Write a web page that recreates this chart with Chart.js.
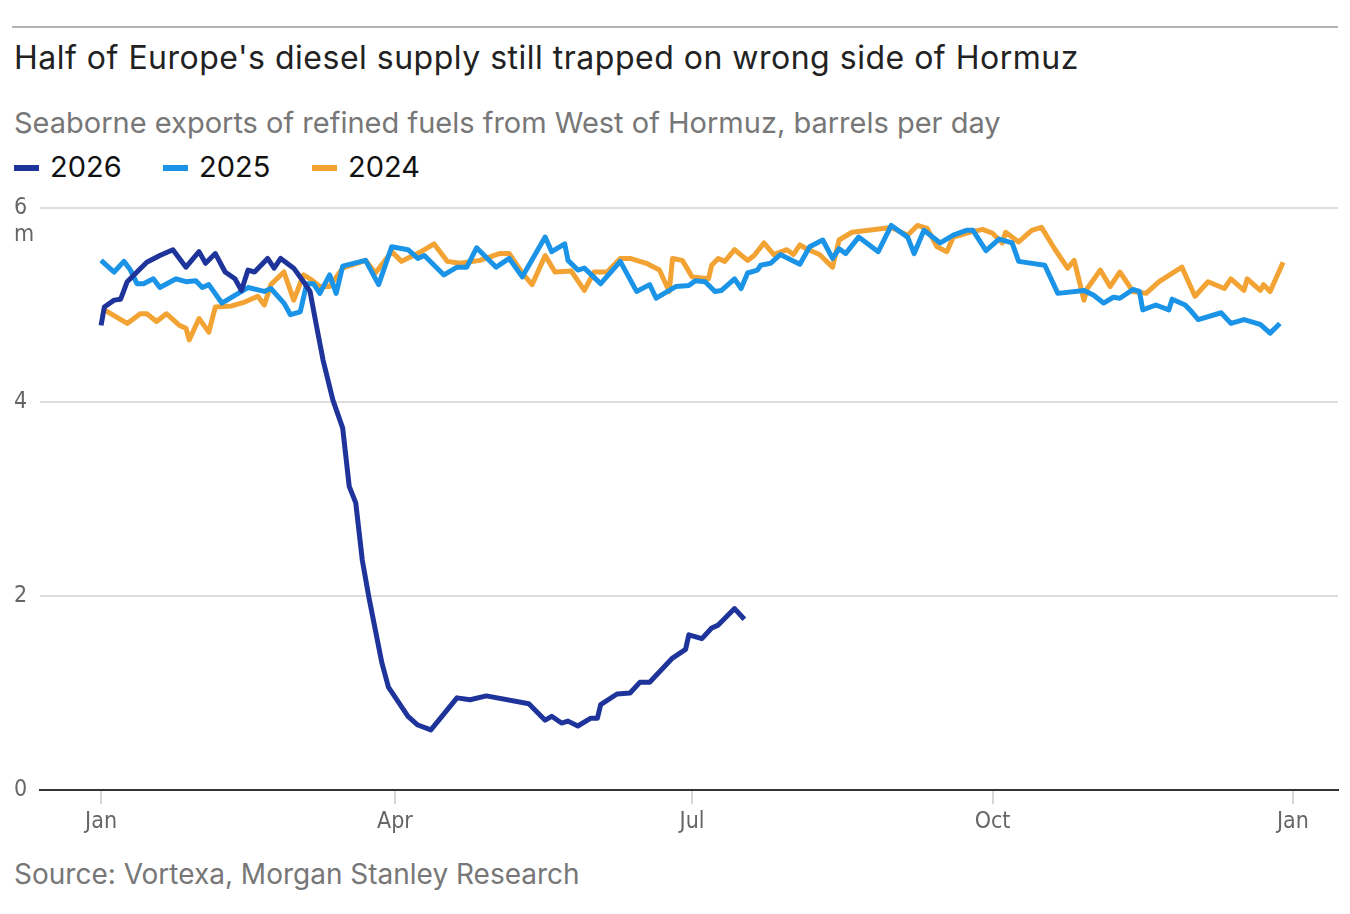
<!DOCTYPE html>
<html>
<head>
<meta charset="utf-8">
<script src="https://cdn.jsdelivr.net/npm/chart.js@4.4.1/dist/chart.umd.min.js"></script>
<style>
    html, body {
        margin: 0;
        padding: 0;
        background: #ffffff;
    }
    body {
        width: 1350px;
        height: 914px;
        position: relative;
        overflow: hidden;
        font-family: 'Inter', 'Roboto', sans-serif;
    }
    .rule {
        position: absolute;
        left: 12px;
        top: 26px;
        width: 1326px;
        height: 2px;
        background: #b4b4b4;
    }
    .txt {
        position: absolute;
        left: 14px;
        white-space: nowrap;
    }
    #title {
        top: 37px;
        font-size: 32px;
        line-height: 42px;
        letter-spacing: 0.5px;
        color: #222222;
    }
    #subtitle {
        top: 104px;
        font-size: 29px;
        line-height: 38px;
        color: #777777;
    }
    #legend {
        top: 149px;
        font-size: 29px;
        line-height: 36px;
        color: #111111;
        display: flex;
        align-items: center;
    }
    .item {
        display: flex;
        align-items: center;
        width: 149px;
    }
    .swatch {
        width: 25px;
        height: 6px;
        margin-right: 11px;
        margin-top: 2px;
    }
    #source {
        top: 857px;
        font-size: 28px;
        line-height: 34px;
        color: #777777;
    }
    #chart {
        position: absolute;
        left: 0;
        top: 190px;
    }
</style>
</head>
<body>
<div class="rule"></div>
<div class="txt" id="title">Half of Europe's diesel supply still trapped on wrong side of Hormuz</div>
<div class="txt" id="subtitle">Seaborne exports of refined fuels from West of Hormuz, barrels per day</div>
<div class="txt" id="legend"></div>
<div class="txt" id="source">Source: Vortexa, Morgan Stanley Research</div>
<canvas id="chart" width="1350" height="655"></canvas>
<script>
// Day of year (0 = 1 Jan) and exports in million barrels per day
const days2026 = [0, 1, 4, 6, 8, 11, 14, 18, 22, 26, 30, 32, 35, 38, 41, 43, 45, 47, 51, 53,
    55, 59, 62, 64, 66, 68, 71, 74, 76, 78, 80, 82, 86, 88, 94, 97, 101, 109, 113, 118,
    131, 136, 138, 141, 143, 146, 150, 152, 153, 158, 162, 165, 168, 175, 179, 180, 184, 187, 189, 194,
    197]
const vals2026 = [4.79, 4.98, 5.05, 5.06, 5.24, 5.34, 5.44, 5.51, 5.57, 5.39, 5.55, 5.43, 5.53, 5.34, 5.27, 5.15, 5.36, 5.34, 5.48, 5.38,
    5.48, 5.38, 5.24, 5.14, 4.78, 4.43, 4.02, 3.73, 3.13, 2.96, 2.37, 1.99, 1.31, 1.06, 0.76, 0.67, 0.62, 0.95, 0.93, 0.97,
    0.89, 0.72, 0.76, 0.69, 0.71, 0.66, 0.74, 0.74, 0.88, 0.99, 1.0, 1.11, 1.11, 1.36, 1.45, 1.6, 1.56, 1.67, 1.7, 1.87,
    1.76]

const days2025 = [0, 4, 7, 9, 11, 13, 16, 18, 23, 26, 29, 31, 33, 37, 42, 45, 50, 52, 56, 58,
    61, 63, 65, 67, 70, 72, 74, 81, 85, 89, 94, 97, 99, 105, 109, 112, 115, 121, 125, 129,
    136, 138, 142, 143, 146, 148, 153, 159, 164, 168, 170, 176, 180, 182, 185, 188, 190, 194, 196, 198,
    201, 202, 205, 208, 214, 217, 221, 224, 226, 228, 232, 238, 242, 247, 249, 252, 257, 261, 265, 267,
    271, 275, 279, 281, 289, 293, 301, 304, 307, 310, 312, 316, 318, 319, 323, 327, 328, 332, 334, 336,
    343, 346, 350, 355, 358, 361]
const vals2025 = [5.46, 5.34, 5.45, 5.36, 5.22, 5.22, 5.27, 5.18, 5.27, 5.24, 5.25, 5.18, 5.21, 5.02, 5.12, 5.18, 5.14, 5.17, 5.02, 4.9,
    4.93, 5.22, 5.22, 5.12, 5.31, 5.12, 5.4, 5.46, 5.21, 5.6, 5.57, 5.48, 5.51, 5.31, 5.39, 5.39, 5.59, 5.39, 5.48, 5.29,
    5.7, 5.55, 5.63, 5.46, 5.36, 5.38, 5.22, 5.45, 5.14, 5.21, 5.07, 5.19, 5.2, 5.25, 5.24, 5.14, 5.15, 5.27, 5.17, 5.33,
    5.36, 5.41, 5.43, 5.52, 5.42, 5.6, 5.67, 5.48, 5.58, 5.53, 5.7, 5.55, 5.82, 5.7, 5.53, 5.77, 5.64, 5.72, 5.77, 5.77,
    5.56, 5.68, 5.64, 5.45, 5.41, 5.12, 5.15, 5.1, 5.02, 5.08, 5.07, 5.16, 5.14, 4.95, 5.0, 4.95, 5.06, 5.0, 4.93, 4.85,
    4.92, 4.81, 4.85, 4.8, 4.71, 4.81]

const days2024 = [1, 8, 12, 14, 17, 20, 24, 26, 27, 30, 33, 35, 40, 44, 48, 50, 52, 56, 59, 62,
    64, 67, 70, 74, 81, 84, 89, 92, 98, 102, 106, 110, 116, 122, 125, 129, 132, 136, 139, 144,
    148, 151, 155, 159, 162, 167, 171, 174, 175, 178, 181, 186, 187, 189, 191, 194, 198, 200, 203, 206,
    210, 212, 214, 216, 220, 224, 226, 230, 235, 242, 247, 250, 253, 256, 259, 261, 266, 270, 273, 276,
    277, 281, 285, 288, 292, 296, 298, 301, 302, 306, 309, 312, 316, 320, 324, 331, 335, 339, 344, 346,
    350, 351, 355, 356, 358, 362]
const vals2024 = [4.95, 4.81, 4.91, 4.91, 4.83, 4.91, 4.79, 4.76, 4.64, 4.86, 4.72, 4.98, 4.99, 5.03, 5.09, 5.0, 5.21, 5.34, 5.05, 5.31,
    5.27, 5.19, 5.19, 5.38, 5.46, 5.33, 5.55, 5.45, 5.55, 5.63, 5.45, 5.43, 5.46, 5.53, 5.53, 5.33, 5.21, 5.51, 5.34, 5.35,
    5.15, 5.34, 5.34, 5.48, 5.48, 5.43, 5.36, 5.14, 5.48, 5.46, 5.29, 5.27, 5.41, 5.48, 5.45, 5.57, 5.46, 5.51, 5.64, 5.52,
    5.57, 5.52, 5.62, 5.58, 5.52, 5.39, 5.67, 5.75, 5.77, 5.8, 5.72, 5.82, 5.79, 5.6, 5.55, 5.7, 5.75, 5.78, 5.74, 5.64,
    5.75, 5.65, 5.77, 5.8, 5.58, 5.38, 5.46, 5.05, 5.17, 5.36, 5.19, 5.34, 5.14, 5.12, 5.24, 5.39, 5.09, 5.24, 5.17, 5.27,
    5.15, 5.27, 5.15, 5.21, 5.14, 5.44]

const seriesNames = ['2026', '2025', '2024']
const seriesColors = ['#1f349b', '#1b94e7', '#f3a333']

const xTickDays = [0, 90, 181, 273, 365]
const xTickLabels = ['Jan', 'Apr', 'Jul', 'Oct', 'Jan']
const yTickValues = [0, 2, 4, 6]

const tickFont = "'Liberation Sans Narrow', 'DejaVu Sans Condensed', 'Roboto', sans-serif"

// Legend in HTML
const legend = document.getElementById('legend')
seriesNames.forEach((name, i) => {
    const item = document.createElement('div')
    item.className = 'item'
    item.innerHTML =
        '<span class="swatch" style="background:' + seriesColors[i] + '"></span>' + name
    legend.appendChild(item)
})

function toPoints(days, vals) {
    return days.map((d, i) => ({ x: d, y: vals[i] }))
}

const allSeries = [
    toPoints(days2026, vals2026),
    toPoints(days2025, vals2025),
    toPoints(days2024, vals2024),
]

// "m" unit under the top y tick
const unitLabelPlugin = {
    id: 'unitLabelPlugin',
    afterDraw(chart) {
        const ctx = chart.ctx
        const yScale = chart.scales.y
        ctx.save()
        ctx.font = '23px ' + tickFont
        ctx.fillStyle = '#666666'
        ctx.textAlign = 'left'
        ctx.textBaseline = 'middle'
        ctx.fillText('m', 14, yScale.getPixelForValue(6) + 27)
        ctx.restore()
    },
}

const ctx = document.getElementById('chart').getContext('2d')

const chart = new Chart(ctx, {
    type: 'line',
    data: {
        datasets: allSeries.map((pts, i) => ({
            label: seriesNames[i],
            data: pts,
            borderColor: seriesColors[i],
            backgroundColor: seriesColors[i],
            borderWidth: 5,
            pointRadius: 0,
            tension: 0,
            borderJoinStyle: 'round',
            fill: false,
        })),
    },
    options: {
        responsive: false,
        animation: false,
        devicePixelRatio: 1,
        layout: {
            padding: { top: 18, left: 14, right: 12, bottom: 0 },
        },
        plugins: {
            legend: { display: false },
            tooltip: { enabled: false },
            title: { display: false },
        },
        scales: {
            x: {
                type: 'linear',
                min: -18.7,
                max: 378.8,
                afterBuildTicks: (scale) => {
                    scale.ticks = xTickDays.map((v) => ({ value: v }))
                },
                afterFit: (scale) => {
                    scale.height = 55
                },
                ticks: {
                    autoSkip: false,
                    maxRotation: 0,
                    padding: 4,
                    color: '#666666',
                    font: { family: tickFont, size: 23 },
                    callback: (value, index) => xTickLabels[index],
                },
                grid: {
                    drawOnChartArea: false,
                    drawTicks: true,
                    tickLength: 14,
                    color: '#d6d6d6',
                    lineWidth: 2,
                },
                border: {
                    display: true,
                    color: '#333333',
                    width: 2,
                },
            },
            y: {
                min: 0,
                max: 6,
                afterBuildTicks: (scale) => {
                    scale.ticks = yTickValues.map((v) => ({ value: v }))
                },
                afterFit: (scale) => {
                    scale.width = 26
                },
                ticks: {
                    crossAlign: 'far',
                    padding: 0,
                    color: '#666666',
                    font: { family: tickFont, size: 23 },
                    callback: (value) => String(value),
                },
                grid: {
                    color: '#dddddd',
                    lineWidth: 2,
                    drawTicks: false,
                },
                border: {
                    display: false,
                },
            },
        },
    },
    plugins: [unitLabelPlugin],
})
</script>
</body>
</html>
